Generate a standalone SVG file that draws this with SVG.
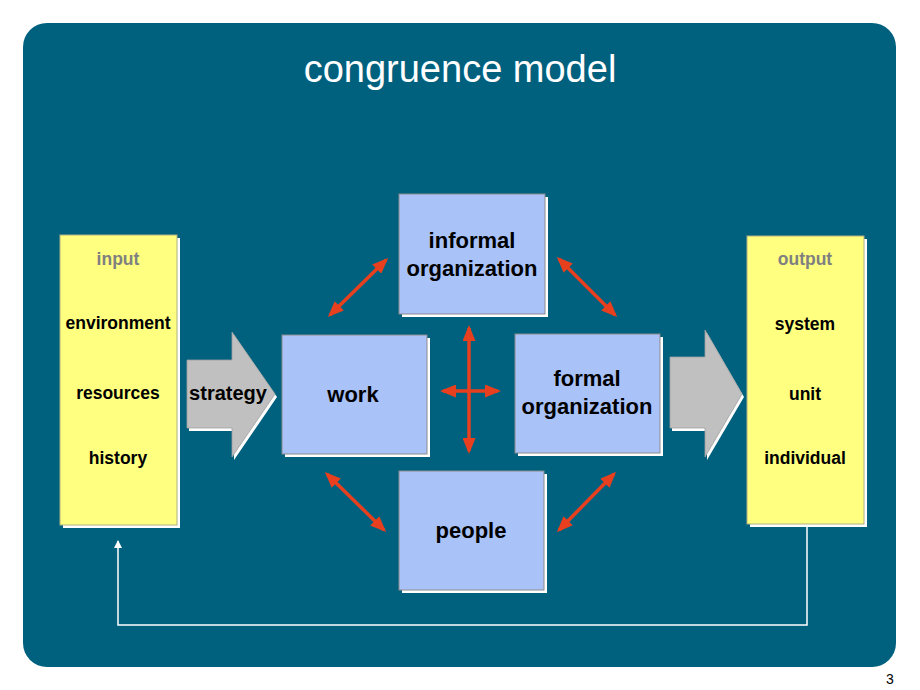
<svg xmlns="http://www.w3.org/2000/svg" width="920" height="690" viewBox="0 0 920 690">
<defs>
<style>
.box{fill:#A9C2F8;stroke:#8C8C8C;stroke-width:1}
.ybox{fill:#FFFF80;stroke:#B0B080;stroke-width:1}
.shadow{fill:#FFFFFF}
.lbl{font-family:"Liberation Sans",Arial,sans-serif;font-weight:bold;fill:#000;text-anchor:middle}
.big{font-size:22px}
.side{font-size:17.5px}
.hdr{fill:#808080}
.red{stroke:#E8401E;stroke-width:3.5;fill:none;marker-start:url(#rh);marker-end:url(#rh)}
.garrow{fill:#C0C0C0;stroke:#A0A0A0;stroke-width:0.8}
</style>
<marker id="rh" viewBox="0 0 16 13" refX="13" refY="6.5" markerWidth="16" markerHeight="13" markerUnits="userSpaceOnUse" orient="auto-start-reverse">
<path d="M0,0 L16,6.5 L0,13 z" fill="#E8401E"/>
</marker>
<marker id="wh" viewBox="0 0 8 8" refX="7" refY="4" markerWidth="8" markerHeight="8" markerUnits="userSpaceOnUse" orient="auto">
<path d="M0,0 L8,4 L0,8 z" fill="#FFFFFF"/>
</marker>
</defs>
<rect x="0" y="0" width="920" height="690" fill="#FFFFFF"/>
<rect id="panel" x="23" y="23" width="873" height="644" rx="24" ry="24" fill="#00617F"/>
<text x="460" y="82" font-family="Liberation Sans,Arial,sans-serif" font-size="38" fill="#FFFFFF" text-anchor="middle">congruence model</text>

<g id="connectors">
<line class="red" x1="330" y1="315" x2="386" y2="260"/>
<line class="red" x1="559" y1="259" x2="615" y2="315"/>
<line class="red" x1="327" y1="474" x2="384" y2="530"/>
<line class="red" x1="559" y1="530" x2="614" y2="474"/>
<line class="red" x1="469" y1="328" x2="469" y2="451"/>
<line class="red" x1="443" y1="391" x2="498" y2="391"/>
<polyline points="807,527 807,625 118,625 118,541" fill="none" stroke="#FFFFFF" stroke-width="1.5" marker-end="url(#wh)"/>
</g>

<g id="input">
<rect class="shadow" x="63" y="238" width="117" height="290"/>
<rect class="ybox" x="60" y="235" width="117" height="290"/>
<text class="lbl side hdr" x="118" y="265">input</text>
<text class="lbl side" x="118" y="329">environment</text>
<text class="lbl side" x="118" y="399">resources</text>
<text class="lbl side" x="118" y="464">history</text>
</g>

<g id="strategy">
<path class="shadow" d="M189,363 L234,363 L234,335 L277,397 L234,460 L234,431 L189,431 z"/>
<path class="garrow" d="M187,360 L232,360 L232,332 L275,394 L232,457 L232,428 L187,428 z"/>
<text class="lbl" x="228" y="400" font-size="20">strategy</text>
</g>

<g id="work">
<rect class="shadow" x="285" y="338" width="145" height="119"/>
<rect class="box" x="282" y="335" width="145" height="119"/>
<text class="lbl big" x="353" y="402">work</text>
</g>

<g id="informal">
<rect class="shadow" x="402" y="197" width="146" height="120"/>
<rect class="box" x="399" y="194" width="146" height="120"/>
<text class="lbl big" x="472" y="248">informal</text>
<text class="lbl big" x="472" y="276">organization</text>
</g>

<g id="formal">
<rect class="shadow" x="518" y="337" width="145" height="119"/>
<rect class="box" x="515" y="334" width="145" height="119"/>
<text class="lbl big" x="587" y="386">formal</text>
<text class="lbl big" x="587" y="414">organization</text>
</g>

<g id="people">
<rect class="shadow" x="402" y="474" width="145" height="119"/>
<rect class="box" x="399" y="471" width="145" height="119"/>
<text class="lbl big" x="471" y="538">people</text>
</g>

<g id="outarrow">
<path class="shadow" d="M672,360 L707,360 L707,333 L744,397 L707,460 L707,431 L672,431 z"/>
<path class="garrow" d="M670,357 L705,357 L705,330 L742,394 L705,457 L705,428 L670,428 z"/>
</g>

<g id="output">
<rect class="shadow" x="750" y="239" width="117" height="288"/>
<rect class="ybox" x="747" y="236" width="117" height="288"/>
<text class="lbl side hdr" x="805" y="265">output</text>
<text class="lbl side" x="805" y="330">system</text>
<text class="lbl side" x="805" y="400">unit</text>
<text class="lbl side" x="805" y="464">individual</text>
</g>

<text x="890" y="684" font-family="Liberation Sans,Arial,sans-serif" font-size="14" fill="#000" text-anchor="middle">3</text>
</svg>
